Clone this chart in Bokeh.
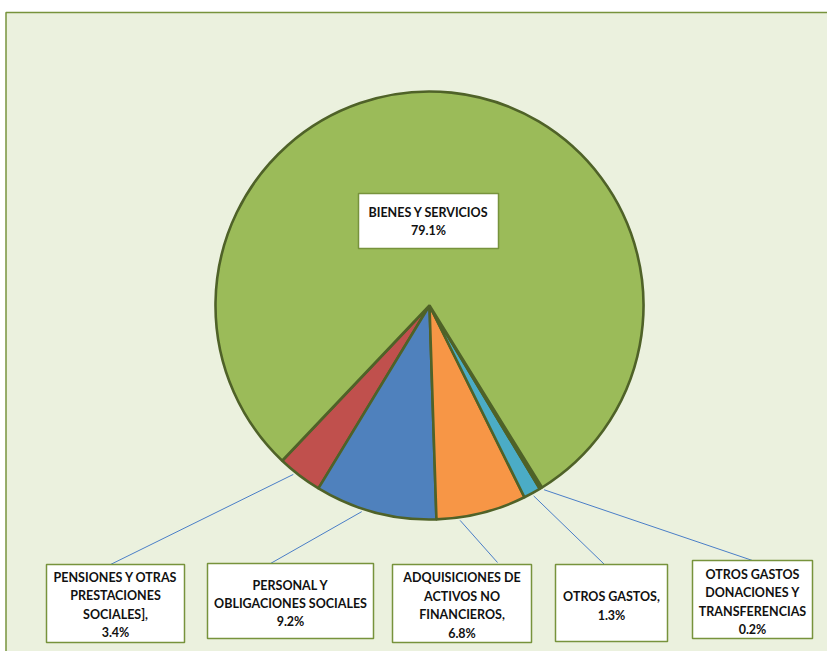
import math
from bokeh.plotting import figure
from bokeh.models import Range1d, ColumnDataSource
from bokeh.embed import file_html
from bokeh.resources import INLINE
from bokeh.core.properties import value

# ---- data ----
categories = [
    "PENSIONES Y OTRAS PRESTACIONES SOCIALES]",
    "PERSONAL Y OBLIGACIONES SOCIALES",
    "ADQUISICIONES DE ACTIVOS NO FINANCIEROS",
    "OTROS GASTOS",
    "OTROS GASTOS DONACIONES Y TRANSFERENCIAS",
    "BIENES Y SERVICIOS",
]
values = [3.4, 9.2, 6.8, 1.3, 0.2, 79.1]
colors = ["#C0504D", "#4F81BD", "#F79646", "#4BACC6", "#8064A2", "#9BBB59"]
label_lines = [
    ["PENSIONES Y OTRAS", "PRESTACIONES", "SOCIALES],"],
    ["PERSONAL Y", "OBLIGACIONES SOCIALES"],
    ["ADQUISICIONES DE", "ACTIVOS NO", "FINANCIEROS,"],
    ["OTROS GASTOS,"],
    ["OTROS GASTOS", "DONACIONES Y", "TRANSFERENCIAS"],
    ["BIENES Y SERVICIOS"],
]

# ---- layout (page pixel coords) ----
W, H = 827, 651
def X(ix): return ix
def Y(iy): return H - iy

cx, cy, R = 429, 305, 214
start_deg = -133.5
box_l = [46, 207, 392, 555, 692, 358]
box_t = [564, 563, 564, 564, 560, 193]
box_r = [184, 373, 531, 667, 812, 498]
box_b = [642, 638, 642, 641, 638, 248]
text_cy = [604.5, 603, 605, 605.5, 601.5, 221]
leader_end_x = [108, 270, 497, 604, 752, None]
leader_end_y = [565, 563, 562, 564, 560, None]
leader_shift_deg = [-1.5, -3.5, -6.0, 0.0, 0.5, 0.0]
leader_gap = 3
line_gap = 18.4

p = figure(width=W, height=H, x_range=Range1d(0, W), y_range=Range1d(0, H),
           output_backend="svg", toolbar_location=None, min_border=0)
p.axis.visible = False
p.grid.visible = False
p.outline_line_color = None
p.background_fill_color = "white"
p.border_fill_color = "white"

# chart area
p.quad(left=[5.5], right=[W + 20], top=[Y(12)], bottom=[-20],
       fill_color="#EBF1DE", line_color="#77933C", line_width=1.5)

# wedges
total = sum(values)
starts, ends, mids = [], [], []
a = math.radians(start_deg)
for v in values:
    da = 2 * math.pi * v / total
    starts.append(a)
    ends.append(a + da)
    mids.append(a + da / 2)
    a += da

src = ColumnDataSource(dict(start=starts, end=ends, color=colors, cat=categories, val=values))
p.wedge(x=X(cx), y=Y(cy), radius=R, radius_units="screen",
        start_angle="start", end_angle="end", fill_color="color",
        line_color="#4F6228", line_width=2.6, source=src)

# leader lines
x0s, y0s, x1s, y1s = [], [], [], []
for i, m in enumerate(mids):
    if leader_end_x[i] is None:
        continue
    ang = m + math.radians(leader_shift_deg[i])
    x0s.append(X(cx) + (R + leader_gap) * math.cos(ang))
    y0s.append(Y(cy) + (R + leader_gap) * math.sin(ang))
    x1s.append(X(leader_end_x[i]))
    y1s.append(Y(leader_end_y[i]))
p.segment(x0=x0s, y0=y0s, x1=x1s, y1=y1s, line_color="#4A7EC7", line_width=1)

# label boxes
p.quad(left=[X(v) for v in box_l], right=[X(v) for v in box_r],
       top=[Y(v) for v in box_t], bottom=[Y(v) for v in box_b],
       fill_color="white", line_color="#77933C", line_width=1.5)

# label texts
tx, ty, tt = [], [], []
for i, lines in enumerate(label_lines):
    allines = lines + [f"{values[i]:.1f}%"]
    n = len(allines)
    bx = (box_l[i] + box_r[i]) / 2
    for k, s in enumerate(allines):
        iy = text_cy[i] + (k - (n - 1) / 2) * line_gap
        tx.append(X(bx))
        ty.append(Y(iy))
        tt.append(s)
p.text(x=tx, y=ty, text=tt, text_font=value("Lato"), text_font_style="bold",
       text_font_size="12.5px", text_align="center", text_baseline="middle",
       text_color="#111111")

open("out.html", "w").write(file_html(p, INLINE))
